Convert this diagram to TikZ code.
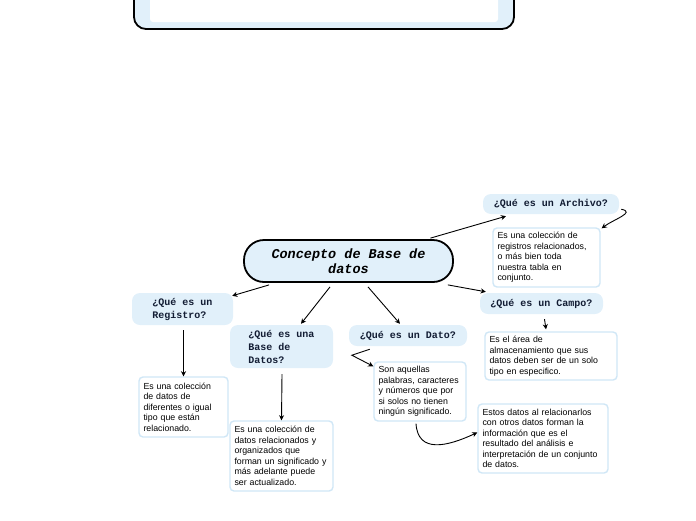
\documentclass[tikz,border=0pt]{standalone}
\usepackage{fontspec}
\setmainfont{Liberation Sans}
\setmonofont{Liberation Mono}
\usetikzlibrary{positioning,arrows.meta,calc}
\definecolor{qfill}{HTML}{E1F0FA}
\definecolor{dline}{HTML}{D0E7F6}
\definecolor{qtext}{HTML}{121C33}
\hyphenpenalty=10000
\exhyphenpenalty=10000
\tikzset{
  conn/.style={-{Stealth[length=1.8mm,width=1.8mm]},line width=0.9pt},
  mainbox/.style={draw=black,fill=qfill,line width=1.8pt,rounded corners=20pt,
    align=center,inner sep=0pt,font=\ttfamily\bfseries\itshape\fontsize{13.5}{15}\selectfont},
  qbox/.style={fill=qfill,rounded corners=8pt,align=left,inner sep=0pt,text=qtext,
    font=\ttfamily\bfseries\fontsize{10}{13}\selectfont},
  dbox/.style={draw=dline,fill=white,line width=1.4pt,rounded corners=4pt,align=left,
    inner xsep=4.5pt,inner ysep=0pt,font=\fontsize{8.8}{10.5}\selectfont},
}
\begin{document}
\begin{tikzpicture}[x=1pt,y=-1pt]
  \useasboundingbox (0,0) rectangle (696,520);
  \clip (0,0) rectangle (696,520);
  % frame cut off at the top
  \node[draw=black,fill=qfill,line width=1.8pt,rounded corners=12pt,
    minimum width=380pt,minimum height=42pt] (top) at (324,8) {};
  \node[fill=white,rounded corners=3pt,minimum width=348pt,minimum height=34pt] (topin) at (324,5) {};
  % central concept
  \node[mainbox,minimum width=209pt,minimum height=42pt] (central) at (348.5,261)
    {Concepto de Base de\\datos};
  % questions
  \node[qbox,minimum width=136pt,minimum height=20pt] (archq) at (551,204) {¿Qué es un Archivo?};
  \node[qbox,minimum width=123pt,minimum height=21pt] (campoq) at (541.5,303.5) {¿Qué es un Campo?};
  \node[qbox,minimum width=101pt,minimum height=32pt] (regq) at (182.5,309) {¿Qué es un\\Registro?};
  \node[qbox,minimum width=103pt,minimum height=43pt] (bdq) at (281.5,346.5) {¿Qué es una\\Base de\\Datos?};
  \node[qbox,minimum width=118pt,minimum height=21pt] (datoq) at (408,335.5) {¿Qué es un Dato?};
  % answers
  \node[dbox,text width=98pt,minimum height=59pt] (archd) at (546.5,257.5)
    {Es una colección de\\registros relacionados,\\o más bien toda\\nuestra tabla en\\conjunto.};
  \node[dbox,text width=123pt,minimum height=48pt] (campod) at (551,356)
    {Es el área de\\almacenamiento que sus\\datos deben ser de un solo\\tipo en especifico.};
  \node[dbox,text width=80pt,minimum height=60pt] (regd) at (183.5,407)
    {Es una colección\\de datos de\\diferentes o igual\\tipo que están\\relacionado.};
  \node[dbox,text width=94pt,minimum height=70pt] (bdd) at (281.5,456)
    {Es una colección de\\datos relacionados y\\organizados que\\forman un significado y\\más adelante puede\\ser actualizado.};
  \node[dbox,text width=83pt,minimum height=59pt] (datod) at (420,391.5)
    {Son aquellas\\palabras, caracteres\\y números que por\\si solos no tienen\\ningún significado.};
  \node[dbox,text width=121pt,minimum height=69pt] (infod) at (543,438.5)
    {Estos datos al relacionarlos\\con otros datos forman la\\información que es el\\resultado del análisis e\\interpretación de un conjunto\\de datos.};
  % connectors
  \draw[conn] ($(central.north)+(82,-1)$) -- ($(archq.south)+(-45,2)$);
  \draw[conn] ($(archq.south east)+(2,-5)$) .. controls ($(archq.south east)+(17,-2)$)
    and ($(archd.north east)+(13,-8)$) .. ($(archd.north east)+(1,1)$);
  \draw[conn] ($(central.south east)+(-6,2)$) -- ($(campoq.north west)+(6,-1)$);
  \draw[conn] ($(campoq.south)+(3,5)$) -- ($(campod.north)+(-5,-2)$);
  \draw[conn] ($(central.south west)+(26,2)$) -- ($(regq.north east)+(-1,3)$);
  \draw[conn] ($(central.south)+(-18.5,4)$) -- ($(bdq.north)+(19.5,-1)$);
  \draw[conn] ($(central.south)+(19.5,4)$) -- ($(datoq.north)+(-8,-1)$);
  \draw[conn] ($(regq.south)+(1,5)$) -- (regd.north);
  \draw[conn] ($(bdq.south)+(0.5,6)$) -- (bdd.north);
  \draw[conn] ($(datoq.south west)+(21,3)$) -- ($(datoq.south west)+(3,9)$) -- ($(datod.north west)+(0,5)$);
  \draw[conn] ($(datod.south)+(-4,2)$) .. controls ($(datod.south)+(-2,32)$)
    and ($(infod.west)+(-30,8)$) .. ($(infod.west)+(0,-6)$);
\end{tikzpicture}
\end{document}
